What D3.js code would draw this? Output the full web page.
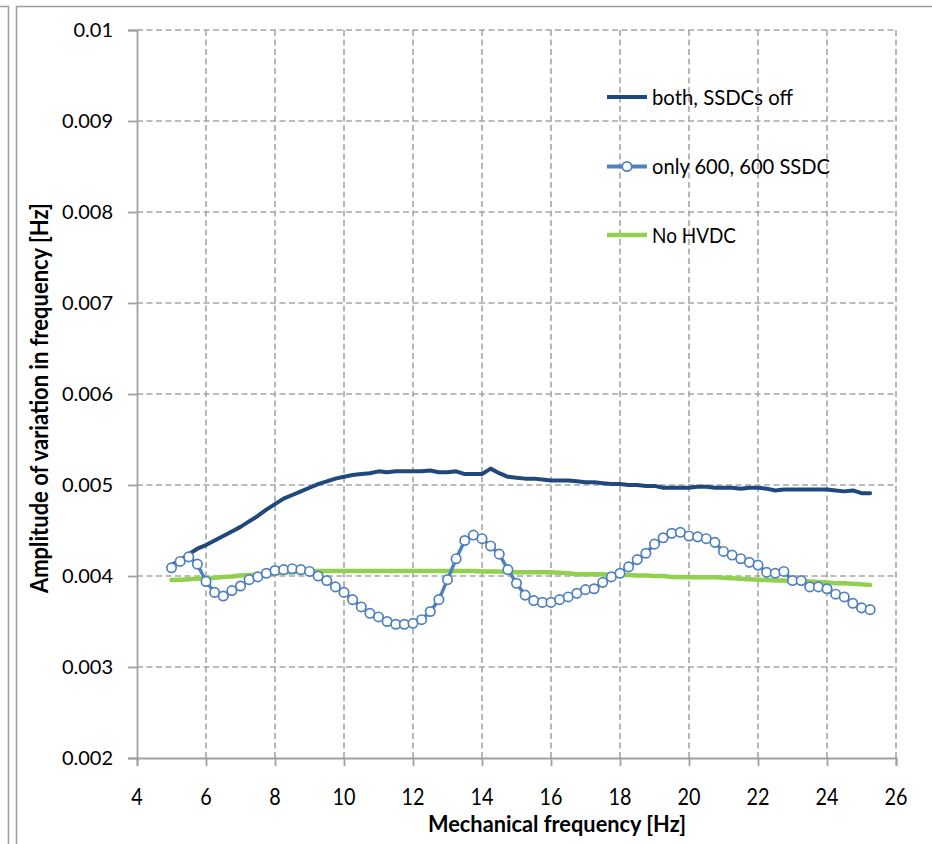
<!DOCTYPE html>
<html>
<head>
<meta charset="utf-8">
<script src="https://cdn.jsdelivr.net/npm/d3@7"></script>
<style>
  html, body { margin: 0; padding: 0; background: #fff; }
  svg { display: block; }
</style>
</head>
<body>
<svg id="chart" width="932" height="844"></svg>
<script>
// ---------- DATA ----------
const freq = [5.00,5.25,5.50,5.75,6.00,6.25,6.50,6.75,7.00,7.25,7.50,7.75,8.00,8.25,8.50,8.75,
  9.00,9.25,9.50,9.75,10.00,10.25,10.50,10.75,11.00,11.25,11.50,11.75,12.00,12.25,12.50,12.75,
  13.00,13.25,13.50,13.75,14.00,14.25,14.50,14.75,15.00,15.25,15.50,15.75,16.00,16.25,16.50,16.75,
  17.00,17.25,17.50,17.75,18.00,18.25,18.50,18.75,19.00,19.25,19.50,19.75,20.00,20.25,20.50,20.75,
  21.00,21.25,21.50,21.75,22.00,22.25,22.50,22.75,23.00,23.25,23.50,23.75,24.00,24.25,24.50,24.75,
  25.00,25.25];

const bothOff = [0.00412,0.00417,0.00424,0.00430,0.00434,0.00439,0.00444,0.00449,0.00454,0.00460,
  0.00466,0.00473,0.00479,0.00485,0.00489,0.00493,0.00497,0.00501,0.00504,0.00507,0.00509,0.00511,
  0.00512,0.00513,0.00515,0.00514,0.00515,0.00515,0.00515,0.00515,0.00516,0.00514,0.00514,0.00515,
  0.00512,0.00512,0.00512,0.00518,0.00513,0.00509,0.00508,0.00507,0.00507,0.00506,0.00505,0.00505,
  0.00505,0.00504,0.00503,0.00503,0.00502,0.00501,0.00501,0.00500,0.00500,0.00499,0.00499,0.00497,
  0.00497,0.00497,0.00497,0.00498,0.00498,0.00497,0.00497,0.00497,0.00496,0.00497,0.00497,0.00496,
  0.00494,0.00495,0.00495,0.00495,0.00495,0.00495,0.00495,0.00494,0.00493,0.00494,0.00491,0.00491];

const only600 = [0.00409,0.00416,0.00421,0.00413,0.00394,0.00382,0.00378,0.00384,0.00389,0.00396,
  0.00399,0.00403,0.00406,0.00407,0.00408,0.00407,0.00405,0.00400,0.00395,0.00388,0.00382,0.00374,
  0.00366,0.00359,0.00355,0.00350,0.00347,0.00347,0.00348,0.00352,0.00361,0.00374,0.00396,0.00419,
  0.00439,0.00445,0.00441,0.00433,0.00424,0.00407,0.00392,0.00379,0.00373,0.00371,0.00371,0.00374,
  0.00377,0.00381,0.00385,0.00386,0.00393,0.00399,0.00403,0.00410,0.00418,0.00425,0.00435,0.00442,
  0.00447,0.00448,0.00444,0.00443,0.00441,0.00437,0.00427,0.00423,0.00419,0.00415,0.00412,0.00404,
  0.00403,0.00405,0.00395,0.00395,0.00388,0.00388,0.00386,0.00380,0.00377,0.00370,0.00365,0.00363];

const noHVDC = [0.003955,0.00396,0.003965,0.00397,0.003975,0.00398,0.00399,0.003995,0.004005,0.00401,
  0.004015,0.00402,0.00403,0.004035,0.00404,0.004045,0.00405,0.004055,0.004055,0.004055,0.004055,0.004055,
  0.004055,0.004055,0.004055,0.004055,0.004055,0.004055,0.004055,0.004055,0.004055,0.004055,0.004055,0.004055,
  0.004055,0.004055,0.00405,0.00405,0.00405,0.00404,0.00404,0.00404,0.00404,0.00404,0.00404,0.004035,
  0.00403,0.00402,0.00402,0.00402,0.00402,0.00401,0.00401,0.00401,0.004005,0.004005,0.004,0.004,
  0.00399,0.00399,0.003985,0.003985,0.003985,0.003985,0.00398,0.003975,0.00397,0.003965,0.00396,0.003955,
  0.00395,0.00395,0.003945,0.003945,0.00394,0.003935,0.00393,0.00392,0.00392,0.003915,0.00391,0.0039];

const xTicks = [4,6,8,10,12,14,16,18,20,22,24,26];
const yTicks = [0.002,0.003,0.004,0.005,0.006,0.007,0.008,0.009,0.01];
const yTickLabels = ["0.002","0.003","0.004","0.005","0.006","0.007","0.008","0.009","0.01"];
const seriesNames = ["both, SSDCs off", "only 600, 600 SSDC", "No HVDC"];
const xTitle = "Mechanical frequency [Hz]";
const yTitle = "Amplitude of variation in frequency  [Hz]";

// ---------- LAYOUT ----------
const svg = d3.select("#chart");
const L = 137, R = 896, T = 30, B = 758;
const x = d3.scaleLinear().domain([4, 26]).range([L, R]);
const y = d3.scaleLinear().domain([0.002, 0.01]).range([B, T]);

const colDark = "#1f497d", colBlue = "#4f81bd", colGreen = "#92d050";
const gridCol = "#a6a6a6";
const font = "Lato, 'Open Sans', sans-serif";

// Frame lines
svg.append("path").attr("d", "M0,6.5H8.5V844").attr("fill", "none").attr("stroke", "#a0a0a0").attr("stroke-width", 1.6);
svg.append("path").attr("d", "M16.5,844V6.5H932").attr("fill", "none").attr("stroke", "#a0a0a0").attr("stroke-width", 1.6);

// Grid
const grid = svg.append("g");
grid.selectAll("line.h").data(yTicks.filter(d => d > 0.002)).join("line")
  .attr("x1", L).attr("x2", R).attr("y1", d => y(d)).attr("y2", d => y(d))
  .attr("stroke", gridCol).attr("stroke-width", 1.6).attr("stroke-dasharray", "6,3.5");
grid.selectAll("line.v").data(xTicks.filter(d => d > 4)).join("line")
  .attr("y1", T).attr("y2", B).attr("x1", d => x(d)).attr("x2", d => x(d))
  .attr("stroke", gridCol).attr("stroke-width", 1.6).attr("stroke-dasharray", "6,3.5");

// Axes
const xAxis = d3.axisBottom(x).tickValues(xTicks).tickSize(8).tickFormat("");
const yAxis = d3.axisLeft(y).tickValues(yTicks).tickSize(9).tickFormat("");
const gx = svg.append("g").attr("transform", `translate(0,${B})`).call(xAxis);
const gy = svg.append("g").attr("transform", `translate(${L},0)`).call(yAxis);
[gx, gy].forEach(g => {
  g.select(".domain").attr("stroke", "#a0a0a0").attr("stroke-width", 1.8);
  g.selectAll(".tick line").attr("stroke", "#a0a0a0").attr("stroke-width", 1.8);
});

// Tick labels
svg.append("g").selectAll("text").data(yTicks).join("text")
  .attr("x", 113).attr("y", d => y(d)).attr("dy", "0.36em")
  .attr("text-anchor", "end").attr("font-family", font).attr("font-size", 20)
  .attr("fill", "#000").text((d, i) => yTickLabels[i]);

svg.append("g").selectAll("text").data(xTicks).join("text")
  .attr("transform", d => `translate(${x(d)},805) scale(0.88,1)`)
  .attr("text-anchor", "middle").attr("font-family", font).attr("font-size", 22.5)
  .attr("fill", "#000").text(d => d);

// Axis titles
svg.append("text").attr("x", 557).attr("y", 831.5).attr("text-anchor", "middle")
  .attr("font-family", font).attr("font-weight", "bold").attr("font-size", 23.5)
  .attr("textLength", 258).attr("lengthAdjust", "spacingAndGlyphs")
  .attr("fill", "#000").text(xTitle);

svg.append("text").attr("transform", "translate(48,398) rotate(-90)").attr("text-anchor", "middle")
  .attr("font-family", font).attr("font-weight", "bold").attr("font-size", 24.5)
  .attr("textLength", 390).attr("lengthAdjust", "spacingAndGlyphs")
  .attr("fill", "#000").text(yTitle);

// Series
const line = d3.line().x(d => x(d[0])).y(d => y(d[1]));
const dDark = freq.map((f, i) => [f, bothOff[i]]);
const dBlue = freq.map((f, i) => [f, only600[i]]);
const dGreen = freq.map((f, i) => [f, noHVDC[i]]);

svg.append("path").datum(dDark).attr("d", line).attr("fill", "none")
  .attr("stroke", colDark).attr("stroke-width", 4).attr("stroke-linejoin", "round").attr("stroke-linecap", "round");
svg.append("path").datum(dGreen).attr("d", line).attr("fill", "none")
  .attr("stroke", colGreen).attr("stroke-width", 4.5).attr("stroke-linejoin", "round").attr("stroke-linecap", "round");
svg.append("path").datum(dBlue).attr("d", line).attr("fill", "none")
  .attr("stroke", colBlue).attr("stroke-width", 3.5).attr("stroke-linejoin", "round");
svg.append("g").selectAll("circle").data(dBlue).join("circle")
  .attr("cx", d => x(d[0])).attr("cy", d => y(d[1])).attr("r", 4.7)
  .attr("fill", "#fff").attr("stroke", colBlue).attr("stroke-width", 1.7);

// Legend
const legY = [97, 166.5, 235];
const legLen = [141, 178, 84];
const leg = svg.append("g");
const legColors = [colDark, colBlue, colGreen];
seriesNames.forEach((name, i) => {
  leg.append("line").attr("x1", 607).attr("x2", 647).attr("y1", legY[i]).attr("y2", legY[i])
    .attr("stroke", legColors[i]).attr("stroke-width", i === 2 ? 4.5 : 4);
  if (i === 1) {
    leg.append("circle").attr("cx", 627).attr("cy", legY[i]).attr("r", 4.7)
      .attr("fill", "#fff").attr("stroke", colBlue).attr("stroke-width", 1.7);
  }
  leg.append("text").attr("x", 652).attr("y", legY[i]).attr("dy", "0.36em")
    .attr("font-family", font).attr("font-size", 21.5)
    .attr("textLength", legLen[i]).attr("lengthAdjust", "spacingAndGlyphs")
    .attr("fill", "#000").text(name);
});
</script>
</body>
</html>
